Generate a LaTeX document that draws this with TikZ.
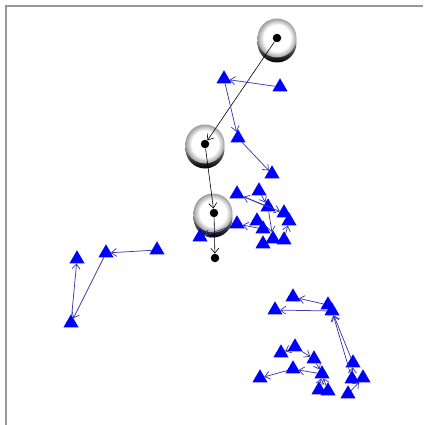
\documentclass[tikz,border=0pt]{standalone}
\usetikzlibrary{arrows.meta,shapes.geometric}
\definecolor{edgeblue}{RGB}{60,60,175}
\pgfdeclareradialshading{puckface}{\pgfpoint{0bp}{0bp}}{color(0bp)=(white); color(17bp)=(white); color(25bp)=(black!38); color(50bp)=(black!38)}
\begin{document}
\begin{tikzpicture}[x=1pt,y=-1pt,
  tri/.style={regular polygon, regular polygon sides=3, fill=blue, draw=none, minimum size=17.5pt, inner sep=0pt, outer sep=0pt},
  dot/.style={circle, fill=black, minimum size=8.5pt, inner sep=0pt},
  bl/.style={draw=edgeblue, line width=0.75pt, -{Straight Barb[length=5pt,width=8pt]}},
  bk/.style={draw=black, line width=0.6pt, -{Straight Barb[length=5pt,width=8pt]}},
  puck/.pic={
    \shade[top color=white, bottom color=black] (0,5) circle (19.5);
    \shade[shading=puckface] (0,0) circle (19.5);
  }
]
\useasboundingbox (0,0) rectangle (423,425);
\draw[black!40, line width=1.5pt] (6,425) -- (6,6) -- (423,6);

% pucks
\pic at (277,38) {puck};
\pic at (205,144) {puck};
\pic at (213,213) {puck};

% robots
\node[dot] (A) at (277,38) {};
\node[dot] (B) at (205,144) {};
\node[dot] (C) at (214,213) {};
\node[dot] (D) at (215,258) {};

% triangles
\node[tri] (t1) at (224,79) {};
\node[tri] (t2) at (280,87) {};
\node[tri] (t3) at (238,138) {};
\node[tri] (t4) at (272,174) {};
\node[tri] (t5) at (237,194) {};
\node[tri] (t6) at (259,191) {};
\node[tri] (t7) at (268,207) {};
\node[tri] (t8) at (284,213) {};
\node[tri] (t9) at (289,221) {};
\node[tri] (t10) at (257,221) {};
\node[tri] (t11) at (263,229) {};
\node[tri] (t12) at (237,224) {};
\node[tri] (t13) at (200,237) {};
\node[tri] (t14) at (263,244) {};
\node[tri] (t15) at (273,239) {};
\node[tri] (t16) at (284,240) {};
\node[tri] (t17) at (157,250) {};
\node[tri] (t18) at (106,253) {};
\node[tri] (t19) at (77,259) {};
\node[tri] (t20) at (71,323) {};
\node[tri] (t21) at (293,297) {};
\node[tri] (t22) at (275,310) {};
\node[tri] (t23) at (328,305) {};
\node[tri] (t24) at (332,311) {};
\node[tri] (t25) at (353,363) {};
\node[tri] (t26) at (352,379) {};
\node[tri] (t27) at (363,378) {};
\node[tri] (t28) at (348,394) {};
\node[tri] (t29) at (295,347) {};
\node[tri] (t30) at (281,353) {};
\node[tri] (t31) at (314,359) {};
\node[tri] (t32) at (293,369) {};
\node[tri] (t33) at (322,374) {};
\node[tri] (t34) at (260,378) {};
\node[tri] (t35) at (319,390) {};
\node[tri] (t36) at (328,391) {};

% black edges
\draw[bk] (A) -- (B);
\draw[bk] (B) -- (C);
\draw[bk] (C) -- (D);

% blue edges
\draw[bl] (t2) -- (t1);
\draw[bl] (t1) -- (t3);
\draw[bl] (t3) -- (t4);
\draw[bl] (t7) -- (t5);
\draw[bl] (t5) -- (t8);
\draw[bl] (t6) -- (t7);
\draw[bl] (t7) -- (t15);
\draw[bl] (t16) -- (t9);
\draw[bl] (t11) -- (t12);
\draw[bl] (t12) -- (t13);
\draw[bl] (t17) -- (t18);
\draw[bl] (t18) -- (t20);
\draw[bl] (t20) -- (t19);
\draw[bl] (t23) -- (t21);
\draw[bl] (t24) -- (t22);
\draw[bl] (t25) -- (t24);
\draw[bl] (t26) -- (t24);
\draw[bl] (t26) -- (t25);
\draw[bl] (t28) -- (t27);
\draw[bl] (t29) -- (t30);
\draw[bl] (t29) -- (t31);
\draw[bl] (t31) -- (t33);
\draw[bl] (t33) -- (t32);
\draw[bl] (t32) -- (t34);
\draw[bl] (t35) -- (t33);
\draw[bl] (t36) -- (t33);
\end{tikzpicture}
\end{document}
